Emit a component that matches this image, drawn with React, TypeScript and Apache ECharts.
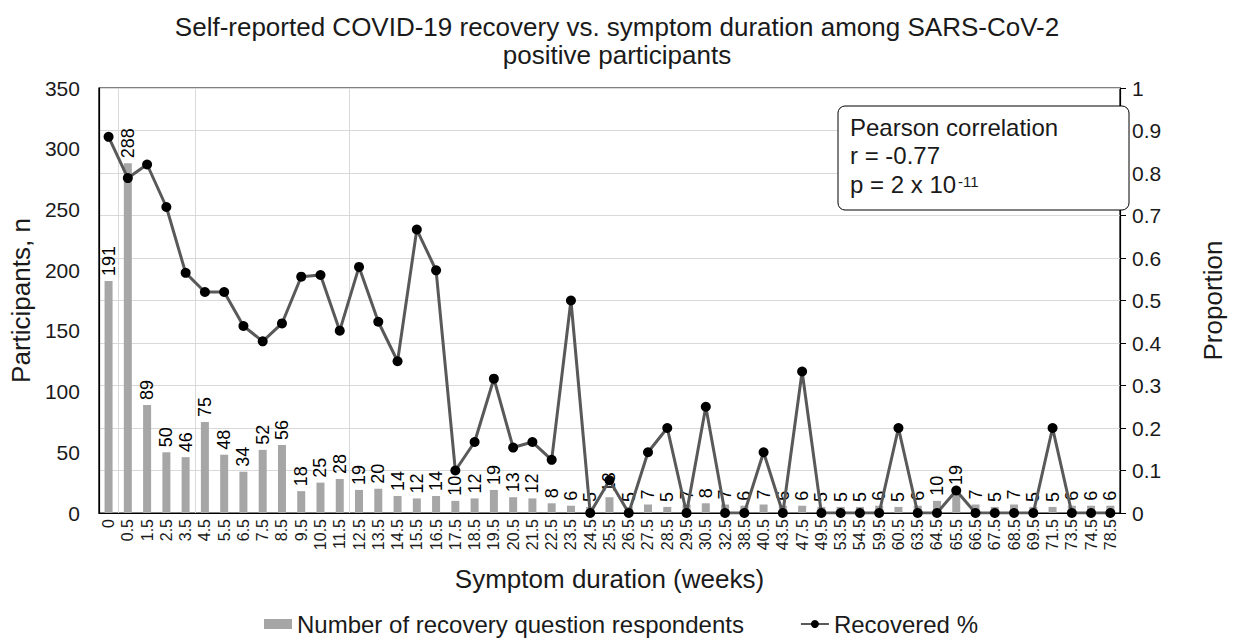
import React, { useEffect, useRef } from "react";
import * as echarts from "echarts";

const categories = [
  "0", "0.5", "1.5", "2.5", "3.5", "4.5", "5.5", "6.5", "7.5", "8.5",
  "9.5", "10.5", "11.5", "12.5", "13.5", "14.5", "15.5", "16.5", "17.5", "18.5",
  "19.5", "20.5", "21.5", "22.5", "23.5", "24.5", "25.5", "26.5", "27.5", "28.5",
  "29.5", "30.5", "32.5", "38.5", "40.5", "43.5", "47.5", "49.5", "53.5", "54.5",
  "59.5", "60.5", "63.5", "64.5", "65.5", "66.5", "67.5", "68.5", "69.5", "71.5",
  "73.5", "74.5", "78.5",
];

const respondents = [
  191, 288, 89, 50, 46, 75, 48, 34, 52, 56,
  18, 25, 28, 19, 20, 14, 12, 14, 10, 12,
  19, 13, 12, 8, 6, 5, 13, 5, 7, 5,
  7, 8, 7, 6, 7, 6, 6, 5, 5, 5,
  6, 5, 6, 10, 19, 7, 5, 7, 5, 5,
  6, 6, 6,
];

const recovered = [
  0.885, 0.788, 0.82, 0.72, 0.565, 0.52, 0.52, 0.44, 0.404, 0.446,
  0.556, 0.56, 0.429, 0.579, 0.45, 0.357, 0.667, 0.571, 0.1, 0.167,
  0.316, 0.154, 0.167, 0.125, 0.5, 0, 0.077, 0, 0.143, 0.2,
  0, 0.25, 0, 0, 0.143, 0, 0.333, 0, 0, 0,
  0, 0.2, 0, 0, 0.053, 0, 0, 0, 0, 0.2,
  0, 0, 0,
];

// category boundaries where the vertical gridlines appear
const verticalGridAt = [1, 5, 13];

const FONT = "Liberation Sans, Arial, sans-serif";
const TXT = "#1a1a1a";

export default function App() {
  const ref = useRef<HTMLDivElement>(null);
  useEffect(() => {
    if (!ref.current) return;
    const chart = echarts.init(ref.current, null, { renderer: "svg" });
    chart.setOption({
      animation: false,
      textStyle: { fontFamily: FONT },
      title: {
        text: "Self-reported COVID-19 recovery vs. symptom duration among SARS-CoV-2\npositive participants",
        left: "center",
        top: 8,
        textStyle: { fontSize: 26, fontWeight: "normal", color: TXT, lineHeight: 28, fontFamily: FONT },
      },
      grid: {
        left: 95,
        right: 89,
        top: 88,
        bottom: 126,
        show: true,
        borderColor: "#000",
        borderWidth: 1.2,
        backgroundColor: "transparent",
      },
      legend: {
        left: 264,
        top: 612,
        padding: 0,
        itemWidth: 28,
        itemHeight: 10,
        itemGap: 56,
        textStyle: { fontSize: 24, lineHeight: 24, color: TXT, fontFamily: FONT },
        data: [
          { name: "Number of recovery question respondents", icon: "rect" },
          { name: "Recovered %" },
        ],
      },
      xAxis: {
        type: "category",
        data: categories,
        name: "Symptom duration (weeks)",
        nameLocation: "middle",
        nameGap: 53,
        nameTextStyle: { fontSize: 26, color: TXT, fontFamily: FONT },
        axisLine: { lineStyle: { color: "#000", width: 1.2 } },
        axisTick: { show: false },
        axisLabel: { interval: 0, rotate: 90, fontSize: 16, color: TXT, margin: 6, fontFamily: FONT },
        splitLine: {
          show: true,
          interval: (index: number) => verticalGridAt.indexOf(index) >= 0,
          lineStyle: { color: "#d9d9d9", width: 1 },
        },
      },
      yAxis: [
        {
          type: "value",
          min: 0,
          max: 350,
          interval: 50,
          name: "Participants, n",
          nameLocation: "middle",
          nameGap: 60,
          nameTextStyle: { fontSize: 26, color: TXT, fontFamily: FONT },
          axisLine: { show: true, lineStyle: { color: "#000", width: 1.2 } },
          axisTick: { show: false },
          axisLabel: { fontSize: 21, color: TXT, margin: 19, fontFamily: FONT },
          splitLine: { show: false },
        },
        {
          type: "value",
          min: 0,
          max: 1,
          interval: 0.1,
          position: "right",
          name: "Proportion",
          nameLocation: "middle",
          nameGap: 80,
          nameTextStyle: { fontSize: 26, color: TXT, fontFamily: FONT },
          axisLine: { show: true, lineStyle: { color: "#000", width: 1.2 } },
          axisTick: { show: true, length: 6, lineStyle: { color: "#000" } },
          axisLabel: {
            fontSize: 21,
            color: TXT,
            margin: 12,
            fontFamily: FONT,
            formatter: (v: number) => String(Math.round(v * 10) / 10),
          },
          splitLine: { show: true, lineStyle: { color: "#d9d9d9", width: 1 } },
        },
      ],
      series: [
        {
          name: "Number of recovery question respondents",
          type: "bar",
          yAxisIndex: 0,
          data: respondents,
          barWidth: 8,
          itemStyle: { color: "#a6a6a6" },
          label: {
            show: true,
            position: "top",
            rotate: 90,
            align: "left",
            verticalAlign: "middle",
            distance: 5,
            fontSize: 18,
            color: "#000",
            fontFamily: FONT,
          },
        },
        {
          name: "Recovered %",
          type: "line",
          yAxisIndex: 1,
          data: recovered,
          symbol: "circle",
          symbolSize: 10,
          showAllSymbol: true,
          lineStyle: { color: "#595959", width: 3 },
          itemStyle: { color: "#000" },
          z: 3,
        },
      ],
      graphic: [
        {
          type: "rect",
          z: 100,
          shape: { x: 838, y: 106, width: 291, height: 104, r: 7 },
          style: { fill: "#ffffff", stroke: "#000", lineWidth: 1 },
        },
        {
          type: "text",
          z: 101,
          x: 850,
          y: 127,
          style: { text: "Pearson correlation", fontSize: 24, fill: TXT, fontFamily: FONT, verticalAlign: "middle" },
        },
        {
          type: "text",
          z: 101,
          x: 850,
          y: 155,
          style: { text: "r = -0.77", fontSize: 24, fill: TXT, fontFamily: FONT, verticalAlign: "middle" },
        },
        {
          type: "text",
          z: 101,
          x: 850,
          y: 184,
          style: { text: "p = 2 x 10", fontSize: 24, fill: TXT, fontFamily: FONT, verticalAlign: "middle" },
        },
        {
          type: "text",
          z: 101,
          x: 958,
          y: 181,
          style: { text: "-11", fontSize: 15, fill: TXT, fontFamily: FONT, verticalAlign: "middle" },
        },
      ],
    });
    return () => chart.dispose();
  }, []);
  return <div ref={ref} style={{ width: 1234, height: 639, position: "absolute", left: 0, top: 0 }} />;
}
